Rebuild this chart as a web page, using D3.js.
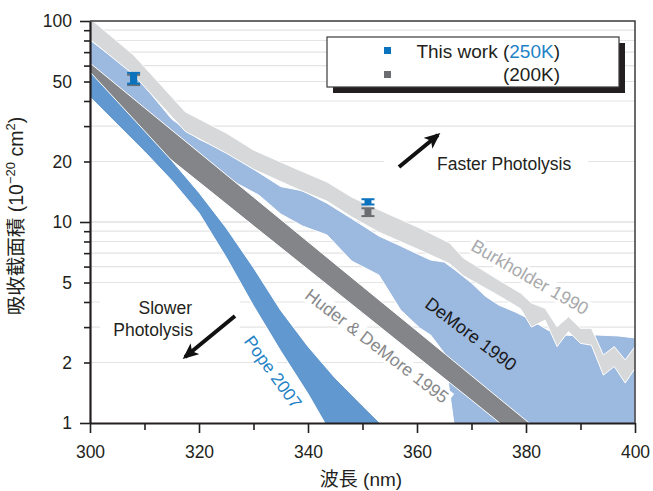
<!DOCTYPE html>
<html>
<head>
<meta charset="utf-8">
<script src="https://cdn.jsdelivr.net/npm/d3@7"></script>
<style>
  body { margin: 0; background: #fff; }
  svg { display: block; font-family: "Liberation Sans", Arial, "Noto Sans CJK TC", sans-serif; }
</style>
</head>
<body>
<svg width="653" height="491"></svg>
<script>
// Burkholder 1990 (light gray band)
const burkWl = [300, 308, 317.5, 325, 330, 338, 343.5, 348, 353, 360.5, 366, 368.5, 375, 379, 381, 383.5, 385.7, 387.8, 390, 392, 394.2, 396.2, 398.2, 400];
const burkHi = [103, 67.7, 35.3, 27.7, 22.8, 18.3, 15.8, 13.3, 11.5, 9.33, 7.86, 6.62, 5.14, 4.43, 3.95, 3.72, 3.01, 3.38, 2.96, 2.96, 2.18, 2.40, 2.06, 2.40];
const burkLo = [81, 54, 28.2, 22.0, 18.3, 14.6, 12.7, 10.6, 8.9, 7.25, 6.2, 5.4, 4.3, 3.7, 3.0, 3.25, 2.40, 2.85, 2.49, 2.44, 1.73, 1.91, 1.58, 1.87];

// DeMore 1990 (light blue band)
const demWl = [300, 308, 315, 320, 325, 331, 335, 339, 343.5, 348, 353, 357, 360.5, 362.5, 365, 367, 370, 372.5, 375, 378, 381, 384, 387, 390, 393, 397, 400];
const demHi = [80.4, 55.1, 32.5, 25.8, 22.5, 17.6, 15.0, 14.3, 12.4, 10.4, 8.52, 7.60, 6.85, 6.47, 6.32, 5.77, 4.97, 4.28, 3.86, 3.57, 3.25, 2.90, 2.74, 2.71, 2.74, 2.71, 2.65];
const demLo = [60.4, 39.5, 27.7, 21.5, 16.6, 13.6, 10.96, 9.55, 8.62, 6.40, 5.45, 3.65, 2.97, 2.74, 2.23, 0.9, 0.6, 0.5, 0.5, 0.5, 0.5, 0.5, 0.5, 0.5, 0.5, 0.5, 0.5];

// Huder & DeMore 1995 (dark gray band)
const hudWl = [300, 310, 320, 330, 340, 350, 360, 370, 375, 380, 385];
const hudHi = [61.8, 37.0, 22.2, 13.3, 7.97, 4.78, 2.87, 1.72, 1.33, 1.03, 0.796];
const hudLo = [42.8, 26.0, 15.8, 9.57, 5.81, 3.53, 2.14, 1.30, 1.01, 0.788, 0.614];

// Pope 2007 (blue band)
const popeWl = [300, 305, 310, 315, 320, 325, 330, 335, 340, 345, 350, 355];
const popeHi = [55.8, 39.8, 28.4, 20.2, 14.0, 9.33, 5.92, 3.63, 2.40, 1.67, 1.22, 0.895];
const popeLo = [41.9, 30.6, 22.4, 16.1, 11.1, 6.67, 3.83, 2.28, 1.40, 0.814, 0.475, 0.277];

// This work
const workWl = [308, 351];
const work250 = [52, 12.6];
const err250 = [3.2, 0.38];
const work200 = [51, 11.2];
const err200 = [3.0, 0.5];

const xTicks = [300, 310, 320, 330, 340, 350, 360, 370, 380, 390, 400];
const yTicks = [1, 2, 3, 4, 5, 6, 7, 8, 9, 10, 20, 30, 40, 50, 60, 70, 80, 90, 100];
const yLabels = [1, 2, 5, 10, 20, 50, 100];

const svg = d3.select('svg');
const width = +svg.attr('width');
const height = +svg.attr('height');
const margin = { top: 21, right: 18, bottom: 68, left: 90 };
const ink = '#231f20';

const x = d3.scaleLinear().domain([300, 400]).range([margin.left, width - margin.right]);
const y = d3.scaleLog().domain([1, 100]).range([height - margin.bottom, margin.top]);

svg.append('defs').append('clipPath').attr('id', 'plot')
  .append('rect')
    .attr('x', x(300)).attr('y', y(100))
    .attr('width', x(400) - x(300)).attr('height', y(1) - y(100));

// grid
svg.append('g').selectAll('line').data(yTicks.filter(d => d > 1 && d < 100))
  .enter().append('line')
    .attr('x1', x(300)).attr('x2', x(400))
    .attr('y1', d => y(d)).attr('y2', d => y(d))
    .attr('stroke', d => (d === 10 ? '#d4d4d4' : '#e4e4e4'))
    .attr('stroke-width', 1.2);

// bands
const toRows = (wl, hi, lo) => wl.map((w, i) => ({ w, hi: hi[i], lo: lo[i] }));
const area = d3.area().x(d => x(d.w)).y0(d => y(d.lo)).y1(d => y(d.hi));
const bands = [
  { rows: toRows(demWl, demHi, demLo), color: '#9cb9e0' },
  { rows: toRows(burkWl, burkHi, burkLo), color: '#d7d8da' },
  { rows: toRows(hudWl, hudHi, hudLo), color: '#848588' },
  { rows: toRows(popeWl, popeHi, popeLo), color: '#6198cf' }
];
const bandG = svg.append('g').attr('clip-path', 'url(#plot)');
bandG.selectAll('path').data(bands)
  .enter().append('path')
    .attr('d', d => area(d.rows))
    .attr('fill', d => d.color)
    .attr('stroke', '#fff')
    .attr('stroke-width', 1);

// band labels with white boxes
const bandLabels = [
  { text: 'Burkholder 1990', cx: 530, cy: 277, angle: 30, color: '#a9aaac', size: 18 },
  { text: 'DeMore 1990', cx: 471, cy: 334, angle: 37, color: '#1a1a1a', size: 18, nobox: true },
  { text: 'Huder & DeMore 1995', cx: 377, cy: 346, angle: 37.5, color: '#88898b', size: 17.5 },
  { text: 'Pope 2007', cx: 273, cy: 372, angle: 54, color: '#1e82c6', size: 17.5 }
];
bandLabels.forEach(l => {
  const g = svg.append('g').attr('transform', `translate(${l.cx},${l.cy}) rotate(${l.angle})`);
  const t = g.append('text')
    .attr('text-anchor', 'middle').attr('dy', '0.35em')
    .attr('font-size', l.size).attr('fill', l.color)
    .text(l.text);
  if (!l.nobox) {
    const b = t.node().getBBox();
    g.insert('rect', 'text')
      .attr('x', b.x - 3).attr('y', b.y + 1)
      .attr('width', b.width + 6).attr('height', b.height - 2)
      .attr('fill', '#fff');
  }
});

// axes
const yAxisG = svg.append('g')
  .attr('transform', `translate(${x(300)},0)`)
  .call(d3.axisLeft(y).tickValues(yTicks).tickSize(6).tickSizeOuter(0).tickPadding(12)
    .tickFormat(d => (yLabels.includes(d) ? d : '')));
yAxisG.selectAll('.tick line').filter(d => d === 1 || d === 10 || d === 100).attr('x2', -10);

const xAxisG = svg.append('g')
  .attr('transform', `translate(0,${y(1)})`)
  .call(d3.axisBottom(x).tickValues(xTicks).tickSize(7).tickSizeOuter(0).tickPadding(16)
    .tickFormat(d => (d % 20 === 0 ? d : '')));
xAxisG.selectAll('.tick line').filter(d => d % 20 === 0).attr('y2', 10);

[yAxisG, xAxisG].forEach(a => {
  a.select('.domain').attr('stroke', ink).attr('stroke-width', 2.2);
  a.selectAll('.tick line').attr('stroke', ink).attr('stroke-width', 1.6);
  a.selectAll('.tick text').attr('fill', ink).attr('font-size', 17.5)
    .attr('font-family', '"Liberation Sans", Arial, sans-serif');
});

// frame
svg.append('path')
  .attr('d', `M${x(300)},${y(100)}H${x(400)}V${y(1)}`)
  .attr('fill', 'none').attr('stroke', '#3a3a3a').attr('stroke-width', 1.5);

// axis titles
svg.append('text')
  .attr('x', 361).attr('y', 486)
  .attr('text-anchor', 'middle').attr('font-size', 19).attr('fill', ink)
  .text('波長 (nm)');

const yTitle = svg.append('text')
  .attr('transform', 'translate(23,216) rotate(-90)')
  .attr('text-anchor', 'middle').attr('font-size', 19.5).attr('fill', ink);
yTitle.append('tspan').text('吸收截面積 (10');
yTitle.append('tspan').attr('dy', -8).attr('font-size', 13).text('−20');
yTitle.append('tspan').attr('dy', 8).text(' cm');
yTitle.append('tspan').attr('dy', -8).attr('font-size', 13).text('2');
yTitle.append('tspan').attr('dy', 8).text(')');

// annotations
const defs = svg.select('defs');
defs.append('marker')
  .attr('id', 'head').attr('markerUnits', 'userSpaceOnUse')
  .attr('viewBox', '0 0 16 14').attr('refX', 13).attr('refY', 7)
  .attr('markerWidth', 16).attr('markerHeight', 14).attr('orient', 'auto')
  .append('path').attr('d', 'M0,0 L16,7 L0,14 L4,7 Z').attr('fill', '#111');

svg.append('rect').attr('x', 384).attr('y', 130).attr('width', 204).attr('height', 48).attr('fill', '#fff');
svg.append('rect').attr('x', 100).attr('y', 290).attr('width', 140).attr('height', 62).attr('fill', '#fff');

svg.append('line')
  .attr('x1', 399).attr('y1', 167).attr('x2', 438).attr('y2', 135)
  .attr('stroke', '#111').attr('stroke-width', 4).attr('marker-end', 'url(#head)');
svg.append('text').attr('x', 437).attr('y', 170).attr('font-size', 17.5).attr('fill', ink)
  .text('Faster Photolysis');

svg.append('line')
  .attr('x1', 235).attr('y1', 316).attr('x2', 185).attr('y2', 357)
  .attr('stroke', '#111').attr('stroke-width', 4).attr('marker-end', 'url(#head)');
svg.append('text').attr('x', 192).attr('y', 314).attr('text-anchor', 'end')
  .attr('font-size', 17.5).attr('fill', ink).text('Slower');
svg.append('text').attr('x', 193).attr('y', 336).attr('text-anchor', 'end')
  .attr('font-size', 17.5).attr('fill', ink).text('Photolysis');

// this work points
const series = [
  { vals: work200, errs: err200, color: '#6c6d70' },
  { vals: work250, errs: err250, color: '#0b72bd' }
];
series.forEach(s => {
  const pts = workWl.map((w, i) => ({ w, v: s.vals[i], e: s.errs[i] }));
  const g = svg.append('g').selectAll('g').data(pts).enter().append('g');
  g.append('rect')
    .attr('x', d => x(d.w) - 3.5).attr('width', 7)
    .attr('y', d => y(d.v + d.e)).attr('height', d => y(d.v - d.e) - y(d.v + d.e))
    .attr('fill', s.color);
  g.append('line')
    .attr('x1', d => x(d.w) - 6.5).attr('x2', d => x(d.w) + 6.5)
    .attr('y1', d => y(d.v + d.e)).attr('y2', d => y(d.v + d.e))
    .attr('stroke', s.color).attr('stroke-width', 2);
  g.append('line')
    .attr('x1', d => x(d.w) - 6.5).attr('x2', d => x(d.w) + 6.5)
    .attr('y1', d => y(d.v - d.e)).attr('y2', d => y(d.v - d.e))
    .attr('stroke', s.color).attr('stroke-width', 2);
});

// legend
const lg = svg.append('g').attr('transform', 'translate(327,37)');
lg.append('rect').attr('x', 6).attr('y', 6).attr('width', 292).attr('height', 50).attr('fill', '#231f20');
lg.append('rect').attr('width', 292).attr('height', 50).attr('fill', '#fff')
  .attr('stroke', '#3a3a3a').attr('stroke-width', 1.2);
lg.append('rect').attr('x', 57).attr('y', 10).attr('width', 7).attr('height', 7).attr('fill', '#0b72bd');
lg.append('rect').attr('x', 57).attr('y', 34).attr('width', 7).attr('height', 7).attr('fill', '#6c6d70');
const l1 = lg.append('text').attr('x', 233).attr('y', 21).attr('text-anchor', 'end')
  .attr('font-size', 19).attr('fill', ink);
l1.append('tspan').text('This work (');
l1.append('tspan').attr('fill', '#1e82c6').text('250K');
l1.append('tspan').text(')');
lg.append('text').attr('x', 233).attr('y', 44).attr('text-anchor', 'end')
  .attr('font-size', 19).attr('fill', ink).text('(200K)');
</script>
</body>
</html>
